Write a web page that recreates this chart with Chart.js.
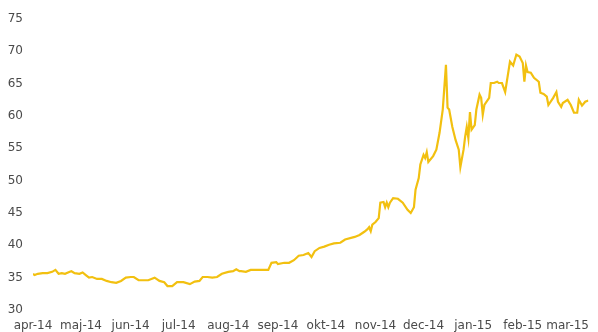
<!DOCTYPE html>
<html>
<head>
<meta charset="utf-8">
<script src="https://cdn.jsdelivr.net/npm/chart.js@4/dist/chart.umd.min.js"></script>
<style>
  html, body { margin: 0; padding: 0; background: #fff; }
  #wrap { width: 598px; height: 332px; position: relative; }
</style>
</head>
<body>
<div id="wrap"><canvas id="graf"></canvas></div>
<script>
// dny od 1. 4. 2014
const dny = [0, 1, 3, 6, 9, 12, 14, 16, 18, 20, 23, 24, 26, 29, 31, 33, 35, 37, 40, 43,
  46, 49, 52, 55, 58, 61, 63, 66, 69, 72, 76, 79, 82, 84, 87, 90, 94, 98, 101, 104,
  106, 109, 112, 115, 118, 122, 125, 127, 129, 130, 133, 136, 139, 142, 147, 149, 152, 153, 157, 160,
  163, 166, 169, 172, 174, 176, 179, 182, 185, 188, 192, 195, 201, 204, 207, 209, 210, 211, 212, 214,
  216, 217, 219, 220, 221, 222, 223, 225, 228, 231, 234, 236, 238, 239, 241, 242, 244, 245, 246, 247,
  250, 252, 254, 256, 258, 259, 260, 262, 264, 266, 267, 269, 270, 271, 272, 273, 274, 276, 277, 279,
  280, 281, 282, 285, 286, 288, 290, 291, 293, 295, 298, 300, 302, 304, 306, 307, 308, 309, 311, 313,
  316, 317, 319, 321, 322, 325, 327, 328, 330, 331, 334, 336, 338, 340, 341, 343, 345, 347];
const hodnoty = [35.6, 35.4, 35.6, 35.7, 35.7, 35.9, 36.2, 35.6, 35.7, 35.6, 35.9, 36.0, 35.7, 35.6, 35.8, 35.4, 35.0, 35.1, 34.8, 34.8,
  34.5, 34.3, 34.2, 34.5, 35.0, 35.1, 35.1, 34.6, 34.6, 34.6, 35.0, 34.5, 34.3, 33.7, 33.7, 34.3, 34.3, 34.0, 34.4, 34.5,
  35.1, 35.1, 35.0, 35.1, 35.6, 35.9, 36.0, 36.3, 36.0, 36.0, 35.9, 36.2, 36.2, 36.2, 36.2, 37.3, 37.4, 37.1, 37.3, 37.3,
  37.7, 38.4, 38.5, 38.8, 38.2, 39.1, 39.6, 39.8, 40.1, 40.3, 40.4, 40.9, 41.3, 41.6, 42.1, 42.5, 42.8, 42.2, 43.2, 43.6,
  44.2, 46.6, 46.7, 45.9, 46.6, 45.9, 46.6, 47.3, 47.2, 46.6, 45.5, 45.0, 45.9, 48.6, 50.4, 52.5, 54.0, 53.5, 54.4, 52.9,
  53.8, 54.8, 57.4, 61.0, 67.9, 61.3, 61.0, 58.3, 56.3, 54.8, 52.1, 54.8, 56.8, 58.3, 56.6, 60.6, 57.9, 58.6, 61.0, 63.3,
  62.8, 60.2, 61.7, 62.8, 65.1, 65.1, 65.3, 65.1, 65.1, 63.7, 68.4, 67.8, 69.5, 69.2, 68.2, 65.3, 67.8, 66.8, 66.7, 65.9,
  65.3, 63.6, 63.4, 63.0, 61.7, 62.8, 63.7, 62.2, 61.4, 62.0, 62.5, 61.7, 60.5, 60.5, 62.5, 61.6, 62.2, 62.4];

// popisky osy x (první den v měsíci)
const mesiceDny = [0, 30, 61, 91, 122, 153, 183, 214, 244, 275, 306, 334];
const mesice = ['apr-14', 'maj-14', 'jun-14', 'jul-14', 'aug-14', 'sep-14', 'okt-14', 'nov-14', 'dec-14', 'jan-15', 'feb-15', 'mar-15'];

const ctx = document.getElementById('graf').getContext('2d');
new Chart(ctx, {
    type: 'line',
    data: {
        datasets: [{
            data: dny.map((d, i) => ({ x: d, y: hodnoty[i] })),
            borderColor: '#f2c010',
            borderWidth: 2.2,
            pointRadius: 0,
            tension: 0,
            fill: false
        }]
    },
    options: {
        responsive: true,
        maintainAspectRatio: false,
        animation: false,
        layout: { padding: { top: 19, left: 0, right: 0, bottom: 0 } },
        plugins: { legend: { display: false }, tooltip: { enabled: false } },
        scales: {
            x: {
                type: 'linear',
                min: 0,
                max: 347,
                grid: { display: false, drawTicks: false },
                border: { display: false },
                afterBuildTicks: scale => { scale.ticks = mesiceDny.map(v => ({ value: v })); },
                afterFit: scale => { scale.height = 22; },
                ticks: {
                    autoSkip: false,
                    maxRotation: 0,
                    padding: 9,
                    color: '#4a4a4a',
                    font: { family: "'DejaVu Sans', sans-serif", size: 12 },
                    callback: (v, i) => mesice[i]
                }
            },
            y: {
                min: 30,
                max: 75,
                grid: { display: false, drawTicks: false },
                border: { display: false },
                afterFit: scale => { scale.width = 33; },
                ticks: {
                    stepSize: 5,
                    padding: 10,
                    color: '#4a4a4a',
                    font: { family: "'DejaVu Sans', sans-serif", size: 12 }
                }
            }
        }
    }
});
</script>
</body>
</html>
